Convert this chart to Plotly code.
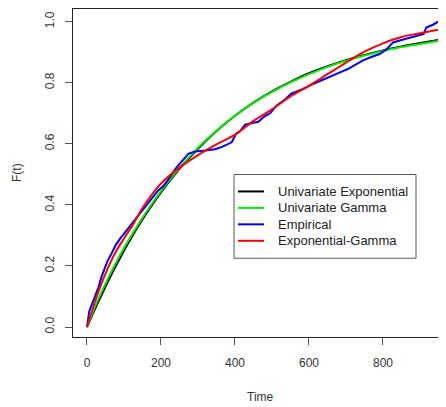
import plotly.graph_objects as go

# Time grid for the fitted curves
t_fit = [0, 25, 50, 75, 100, 125, 150, 175, 200, 250, 300, 350, 400, 450, 500,
         550, 600, 650, 700, 750, 800, 850, 900, 950]
# Univariate Exponential CDF
f_exp = [0.0, 0.068, 0.132, 0.193, 0.250, 0.303, 0.352, 0.398, 0.441, 0.518, 0.584,
         0.642, 0.692, 0.735, 0.772, 0.803, 0.831, 0.854, 0.874, 0.891, 0.906,
         0.919, 0.930, 0.940]
# Univariate Gamma CDF
f_gam = [0.0, 0.076, 0.142, 0.203, 0.259, 0.310, 0.358, 0.403, 0.445, 0.521, 0.587,
         0.643, 0.692, 0.734, 0.770, 0.801, 0.828, 0.852, 0.872, 0.889, 0.904,
         0.917, 0.927, 0.937]
# Exponential-Gamma CDF
f_eg = [0.0, 0.095, 0.175, 0.240, 0.290, 0.337, 0.390, 0.433, 0.470, 0.522, 0.563,
        0.598, 0.630, 0.675, 0.713, 0.755, 0.790, 0.828, 0.866, 0.902, 0.929,
        0.950, 0.962, 0.974]
# Empirical CDF
t_emp = [0, 3, 6, 12, 18, 24, 31, 38, 46, 55, 66, 78, 90, 100, 112, 125, 138, 150, 162,
         172, 183, 193, 205, 215, 229, 240, 251, 262, 274, 287, 300, 320, 346, 365, 380,
         391, 403, 413, 427, 445, 463, 480, 495, 512, 535, 552, 570, 584, 611, 640, 665,
         690, 705, 725, 746, 770, 791, 810, 827, 850, 872, 899, 910, 917, 935, 949]
f_emp = [0.0, 0.03, 0.051, 0.07, 0.09, 0.106, 0.13, 0.16, 0.185, 0.215, 0.24, 0.269,
         0.29, 0.305, 0.324, 0.345, 0.362, 0.382, 0.40, 0.415, 0.43, 0.448, 0.46, 0.475,
         0.50, 0.52, 0.535, 0.55, 0.567, 0.573, 0.576, 0.578, 0.582, 0.59, 0.60, 0.605,
         0.633, 0.64, 0.663, 0.667, 0.672, 0.69, 0.70, 0.725, 0.745, 0.764, 0.772, 0.78,
         0.796, 0.812, 0.824, 0.837, 0.845, 0.86, 0.873, 0.885, 0.894, 0.91, 0.932, 0.94,
         0.947, 0.954, 0.96, 0.981, 0.99, 1.0]

series_names = ["Univariate Exponential", "Univariate Gamma", "Empirical", "Exponential-Gamma"]
series_colors = ["black", "#00ee00", "blue", "red"]

x_ticks = [0, 200, 400, 600, 800]
y_ticks = [0.0, 0.2, 0.4, 0.6, 0.8, 1.0]
y_tick_labels = ["0.0", "0.2", "0.4", "0.6", "0.8", "1.0"]

fig = go.Figure()
fig.add_trace(go.Scatter(x=t_fit, y=f_exp, mode="lines", name=series_names[0],
                         line=dict(color=series_colors[0], width=2, shape="spline")))
fig.add_trace(go.Scatter(x=t_fit, y=f_gam, mode="lines", name=series_names[1],
                         line=dict(color=series_colors[1], width=2, shape="spline")))
fig.add_trace(go.Scatter(x=t_emp, y=f_emp, mode="lines", name=series_names[2],
                         line=dict(color=series_colors[2], width=2)))
fig.add_trace(go.Scatter(x=t_fit, y=f_eg, mode="lines", name=series_names[3],
                         line=dict(color=series_colors[3], width=2, shape="spline")))

font = dict(family="Liberation Sans, Arial, sans-serif", size=12, color="#333")

# The page body has an 8px margin: figure starts at page (8, 8)
OFF = 8
FW, FH = 446 - OFF, 407 - OFF
# plot area in page pixels
L, R, T, B = 73, 446, 8, 337
W, H = R - L, B - T

def px(x):
    return (x - L) / W

def py(y):
    return (B - y) / H

shapes = [dict(type="rect", xref="paper", yref="paper", x0=px(234), x1=px(416),
               y0=py(258), y1=py(174), line=dict(color="#555", width=1),
               fillcolor="white", layer="above")]
annotations = [
    dict(text="Time", xref="x", yref="paper", x=470, y=py(397),
         showarrow=False, xanchor="center", yanchor="middle", font=font),
    dict(text="F(t)", xref="paper", yref="paper", x=px(17), y=0.5,
         showarrow=False, xanchor="center", yanchor="middle", textangle=-90, font=font),
]
leg_font = dict(family="Liberation Sans, Arial, sans-serif", size=13, color="#222")
for i, (name, col) in enumerate(zip(series_names, series_colors)):
    yy = 191 + 16.5 * i
    shapes.append(dict(type="line", xref="paper", yref="paper", x0=px(238), x1=px(264),
                       y0=py(yy), y1=py(yy), line=dict(color=col, width=2), layer="above"))
    annotations.append(dict(text=name, xref="paper", yref="paper", x=px(276), y=py(yy),
                            showarrow=False, xanchor="left", yanchor="middle",
                            font=leg_font))

fig.update_layout(
    width=FW, height=FH,
    margin=dict(l=L - OFF, r=446 - R, t=T - OFF + 1, b=407 - B),
    plot_bgcolor="white", paper_bgcolor="white",
    font=font,
    showlegend=False,
    xaxis=dict(range=[-37.8, 970.3], tickvals=x_ticks, ticks="outside", ticklen=7,
               tickcolor="#555", showline=True, linecolor="#222", linewidth=1,
               mirror=True, showgrid=False, zeroline=False, ticklabelstandoff=8,
               automargin=False),
    yaxis=dict(range=[-0.0327, 1.0415], tickvals=y_ticks, ticktext=y_tick_labels,
               ticks="outside", ticklen=7, tickcolor="#555", tickangle=-90,
               showline=True, linecolor="#222", linewidth=1, mirror=False,
               showgrid=False, zeroline=False, ticklabelstandoff=6, automargin=False),
    shapes=shapes,
    annotations=annotations,
)

fig.write_html("out.html")
